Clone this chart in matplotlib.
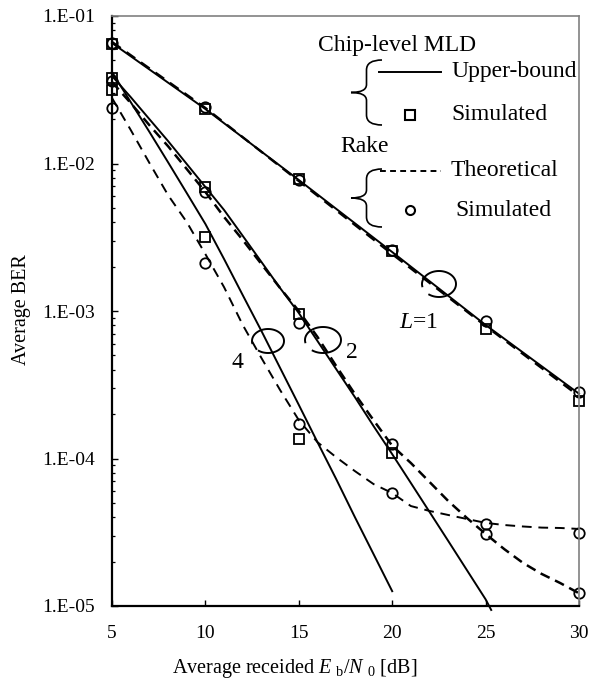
import numpy as np
import matplotlib
matplotlib.use('Agg')
import matplotlib.pyplot as plt
from matplotlib.path import Path
from matplotlib.patches import PathPatch
from matplotlib.ticker import FixedLocator, FuncFormatter, LogLocator, NullFormatter

plt.rcParams['font.family'] = ['Liberation Serif', 'DejaVu Serif']
plt.rcParams['mathtext.fontset'] = 'custom'
plt.rcParams['mathtext.rm'] = 'Liberation Serif'
plt.rcParams['mathtext.it'] = 'Liberation Serif:italic'

# Eb/N0 grids (dB)
snr_5 = [5, 10, 15, 20, 25, 30]
snr_l2_mld = list(range(5, 26)) + [25.3]
snr_l4_mld = list(range(5, 21))
snr_rake = list(range(5, 31))

# L=1
l1_mld_bound = [0.0656, 0.0234, 0.00773, 0.00251, 8.04e-4, 2.75e-4]
l1_rake_theory = [0.0667, 0.0238, 0.0076, 0.00243, 7.92e-4, 2.65e-4]
l1_mld_sim = [0.065, 0.0234, 0.0078, 0.00254, 7.6e-4, 2.47e-4]
l1_rake_sim = [0.066, 0.0240, 0.0077, 0.00258, 8.55e-4, 2.84e-4]

# L=2
l2_mld_bound = [0.0392, 0.0282, 0.0200, 0.0142, 0.00993, 0.00693, 0.00484,
                0.00323, 0.00215, 0.00143, 9.69e-4, 6.26e-4, 4.04e-4, 2.61e-4,
                1.66e-4, 1.07e-4, 6.82e-5, 4.34e-5, 2.76e-5, 1.75e-5, 1.11e-5,
                9.4e-6]
l2_rake_theory = [0.0357, 0.0257, 0.0182, 0.0131, 0.00918, 0.00641, 0.00434,
                  0.00303, 0.00208, 0.00143, 0.0010, 6.67e-4, 4.24e-4, 2.74e-4,
                  1.82e-4, 1.22e-4, 9.32e-5, 6.93e-5, 5.15e-5, 3.95e-5, 3.08e-5,
                  2.43e-5, 1.96e-5, 1.65e-5, 1.43e-5, 1.22e-5]
l2_mld_sim = [0.038, 0.00693, 9.55e-4, 1.09e-4]
l2_rake_sim = [0.0362, 0.00641, 8.29e-4, 1.25e-4, 3.08e-5, 1.22e-5]

# L=4
l4_mld_bound = [0.0417, 0.0261, 0.0164, 0.0102, 0.00631, 0.00389, 0.00225,
                0.00128, 7.32e-4, 4.11e-4, 2.31e-4, 1.29e-4, 7.26e-5, 4.01e-5,
                2.25e-5, 1.26e-5]
l4_rake_theory = [0.0278, 0.0169, 0.0101, 0.00611, 0.00401, 0.00243, 0.00145,
                  8.04e-4, 4.80e-4, 2.91e-4, 1.82e-4, 1.29e-4, 1.02e-4, 8.22e-5,
                  6.71e-5, 5.83e-5, 4.76e-5, 4.41e-5, 4.14e-5, 3.89e-5, 3.66e-5,
                  3.54e-5, 3.46e-5, 3.40e-5, 3.38e-5, 3.33e-5]
l4_mld_sim = [0.0315, 0.00318, 1.36e-4]
l4_rake_sim = [0.0238, 0.00212, 1.71e-4, 5.83e-5, 3.6e-5, 3.13e-5]

y_ticks = [1e-5, 1e-4, 1e-3, 1e-2, 1e-1]

W, H = 590, 689
fig = plt.figure(figsize=(W / 100, H / 100), dpi=100)
ax = fig.add_axes([112 / W, 1 - 606 / H, (579 - 112) / W, (606 - 16) / H])

solid = dict(color='black', lw=1.4, clip_on=False)
sq = dict(ls='none', marker='s', ms=7, mfc='none', mec='black', mew=1.3, clip_on=False)
ci = dict(ls='none', marker='o', ms=7.5, mfc='none', mec='black', mew=1.3, clip_on=False)

ax.plot(snr_5, l1_mld_bound, **solid)
ax.plot(snr_5, l1_rake_theory, color='black', lw=1.7, ls=(0, (4.5, 3)), clip_on=False)
ax.plot(snr_l2_mld, l2_mld_bound, **solid)
ax.plot(snr_rake, l2_rake_theory, color='black', lw=1.8, ls=(0, (4, 2.4)), clip_on=False)
ax.plot(snr_l4_mld, l4_mld_bound, **solid)
ax.plot(snr_rake, l4_rake_theory, color='black', lw=1.4, ls=(0, (5, 3.5)), clip_on=False)

ax.plot(snr_5, l1_mld_sim, **sq)
ax.plot(snr_5, l1_rake_sim, **ci)
ax.plot(snr_5[:4], l2_mld_sim, **sq)
ax.plot(snr_5, l2_rake_sim, **ci)
ax.plot(snr_5[:3], l4_mld_sim, **sq)
ax.plot(snr_5, l4_rake_sim, **ci)

ax.set_yscale('log')
ax.set_xlim(5, 30)
ax.set_ylim(1e-5, 1e-1)
ax.xaxis.set_major_locator(FixedLocator(snr_5))
ax.yaxis.set_major_locator(FixedLocator(y_ticks))
ax.yaxis.set_minor_locator(LogLocator(base=10, subs=np.arange(2, 10)))
ax.yaxis.set_minor_formatter(NullFormatter())
ax.yaxis.set_major_formatter(FuncFormatter(lambda v, p: '1.E-%02d' % round(-np.log10(v))))
ax.tick_params(axis='both', which='major', direction='in', length=4, width=1,
               labelsize=14, top=False, right=False)
ax.tick_params(axis='y', which='minor', direction='in', length=2.5, width=0.9, right=False)
ax.tick_params(axis='x', pad=14)
ax.tick_params(axis='y', pad=12)
ax.xaxis.set_minor_locator(FixedLocator([]))
for s in ['left', 'bottom']:
    ax.spines[s].set_linewidth(1.6)
    ax.spines[s].set_color('black')
for s in ['top', 'right']:
    ax.spines[s].set_linewidth(1.2)
    ax.spines[s].set_color('#808080')

fig.text(22 / W, 1 - 310 / H, 'Average BER', rotation=90, ha='center', va='center', fontsize=14.5)
fig.text(295 / W, 1 - 668 / H, r'Average receided $E\ _{\rm b}/N\ _{0}$ [dB]',
         ha='center', va='center', fontsize=14.5)

# overlay in pixel coordinates for legend and annotations
ov = fig.add_axes([0, 0, 1, 1], zorder=5)
ov.set_xlim(0, W)
ov.set_ylim(H, 0)
ov.axis('off')
ov.patch.set_alpha(0)


def brace(x_tip, y_top, y_bot, x_end):
    xm = x_tip + (x_end - x_tip) * 0.5
    ym = (y_top + y_bot) / 2
    verts = [(x_end, y_top), (xm, y_top), (xm, y_top + 10),
             (xm, ym - 8), (xm, ym), (x_tip, ym),
             (xm, ym), (xm, ym + 8),
             (xm, y_bot - 10), (xm, y_bot), (x_end, y_bot)]
    codes = [Path.MOVETO, Path.CURVE3, Path.CURVE3,
             Path.LINETO, Path.CURVE3, Path.CURVE3,
             Path.CURVE3, Path.CURVE3,
             Path.LINETO, Path.CURVE3, Path.CURVE3]
    ov.add_patch(PathPatch(Path(verts, codes), fill=False, lw=1.2, color='black'))


def curl(cx, cy, rx, ry):
    t = np.radians(np.linspace(235, 550, 80))
    ov.plot(cx + rx * np.cos(t), cy - ry * np.sin(t), color='black', lw=1.4)


fs = 17
ov.text(397, 46, 'Chip-level MLD', ha='center', va='center', fontsize=fs)
brace(351, 60, 125, 382)
ov.plot([379, 441], [72, 72], color='black', lw=1.4)
ov.text(451, 72, 'Upper-bound', ha='left', va='center', fontsize=fs)
ov.plot([410], [115], marker='s', ms=6.5, mfc='none', mec='black', mew=1.5)
ov.text(451, 115, 'Simulated', ha='left', va='center', fontsize=fs)
ov.text(340, 146, 'Rake', ha='left', va='center', fontsize=fs)
brace(351, 169, 227, 382)
ov.plot([380, 441], [171, 171], color='black', lw=1.4, ls=(0, (3, 2.2)))
ov.text(451, 171, 'Theoretical', ha='left', va='center', fontsize=fs)
ov.plot([410], [210], marker='o', ms=6.5, mfc='none', mec='black', mew=1.5)
ov.text(455, 210, 'Simulated', ha='left', va='center', fontsize=fs)

curl(439, 284, 17, 13)
curl(323, 340, 18, 13)
curl(268, 341, 16, 12)
ov.text(419, 322, r'$L$=1', ha='center', va='center', fontsize=fs)
ov.text(352, 352, '2', ha='center', va='center', fontsize=fs)
ov.text(237, 362, '4', ha='center', va='center', fontsize=fs)

fig.savefig('out.png', dpi=100)
